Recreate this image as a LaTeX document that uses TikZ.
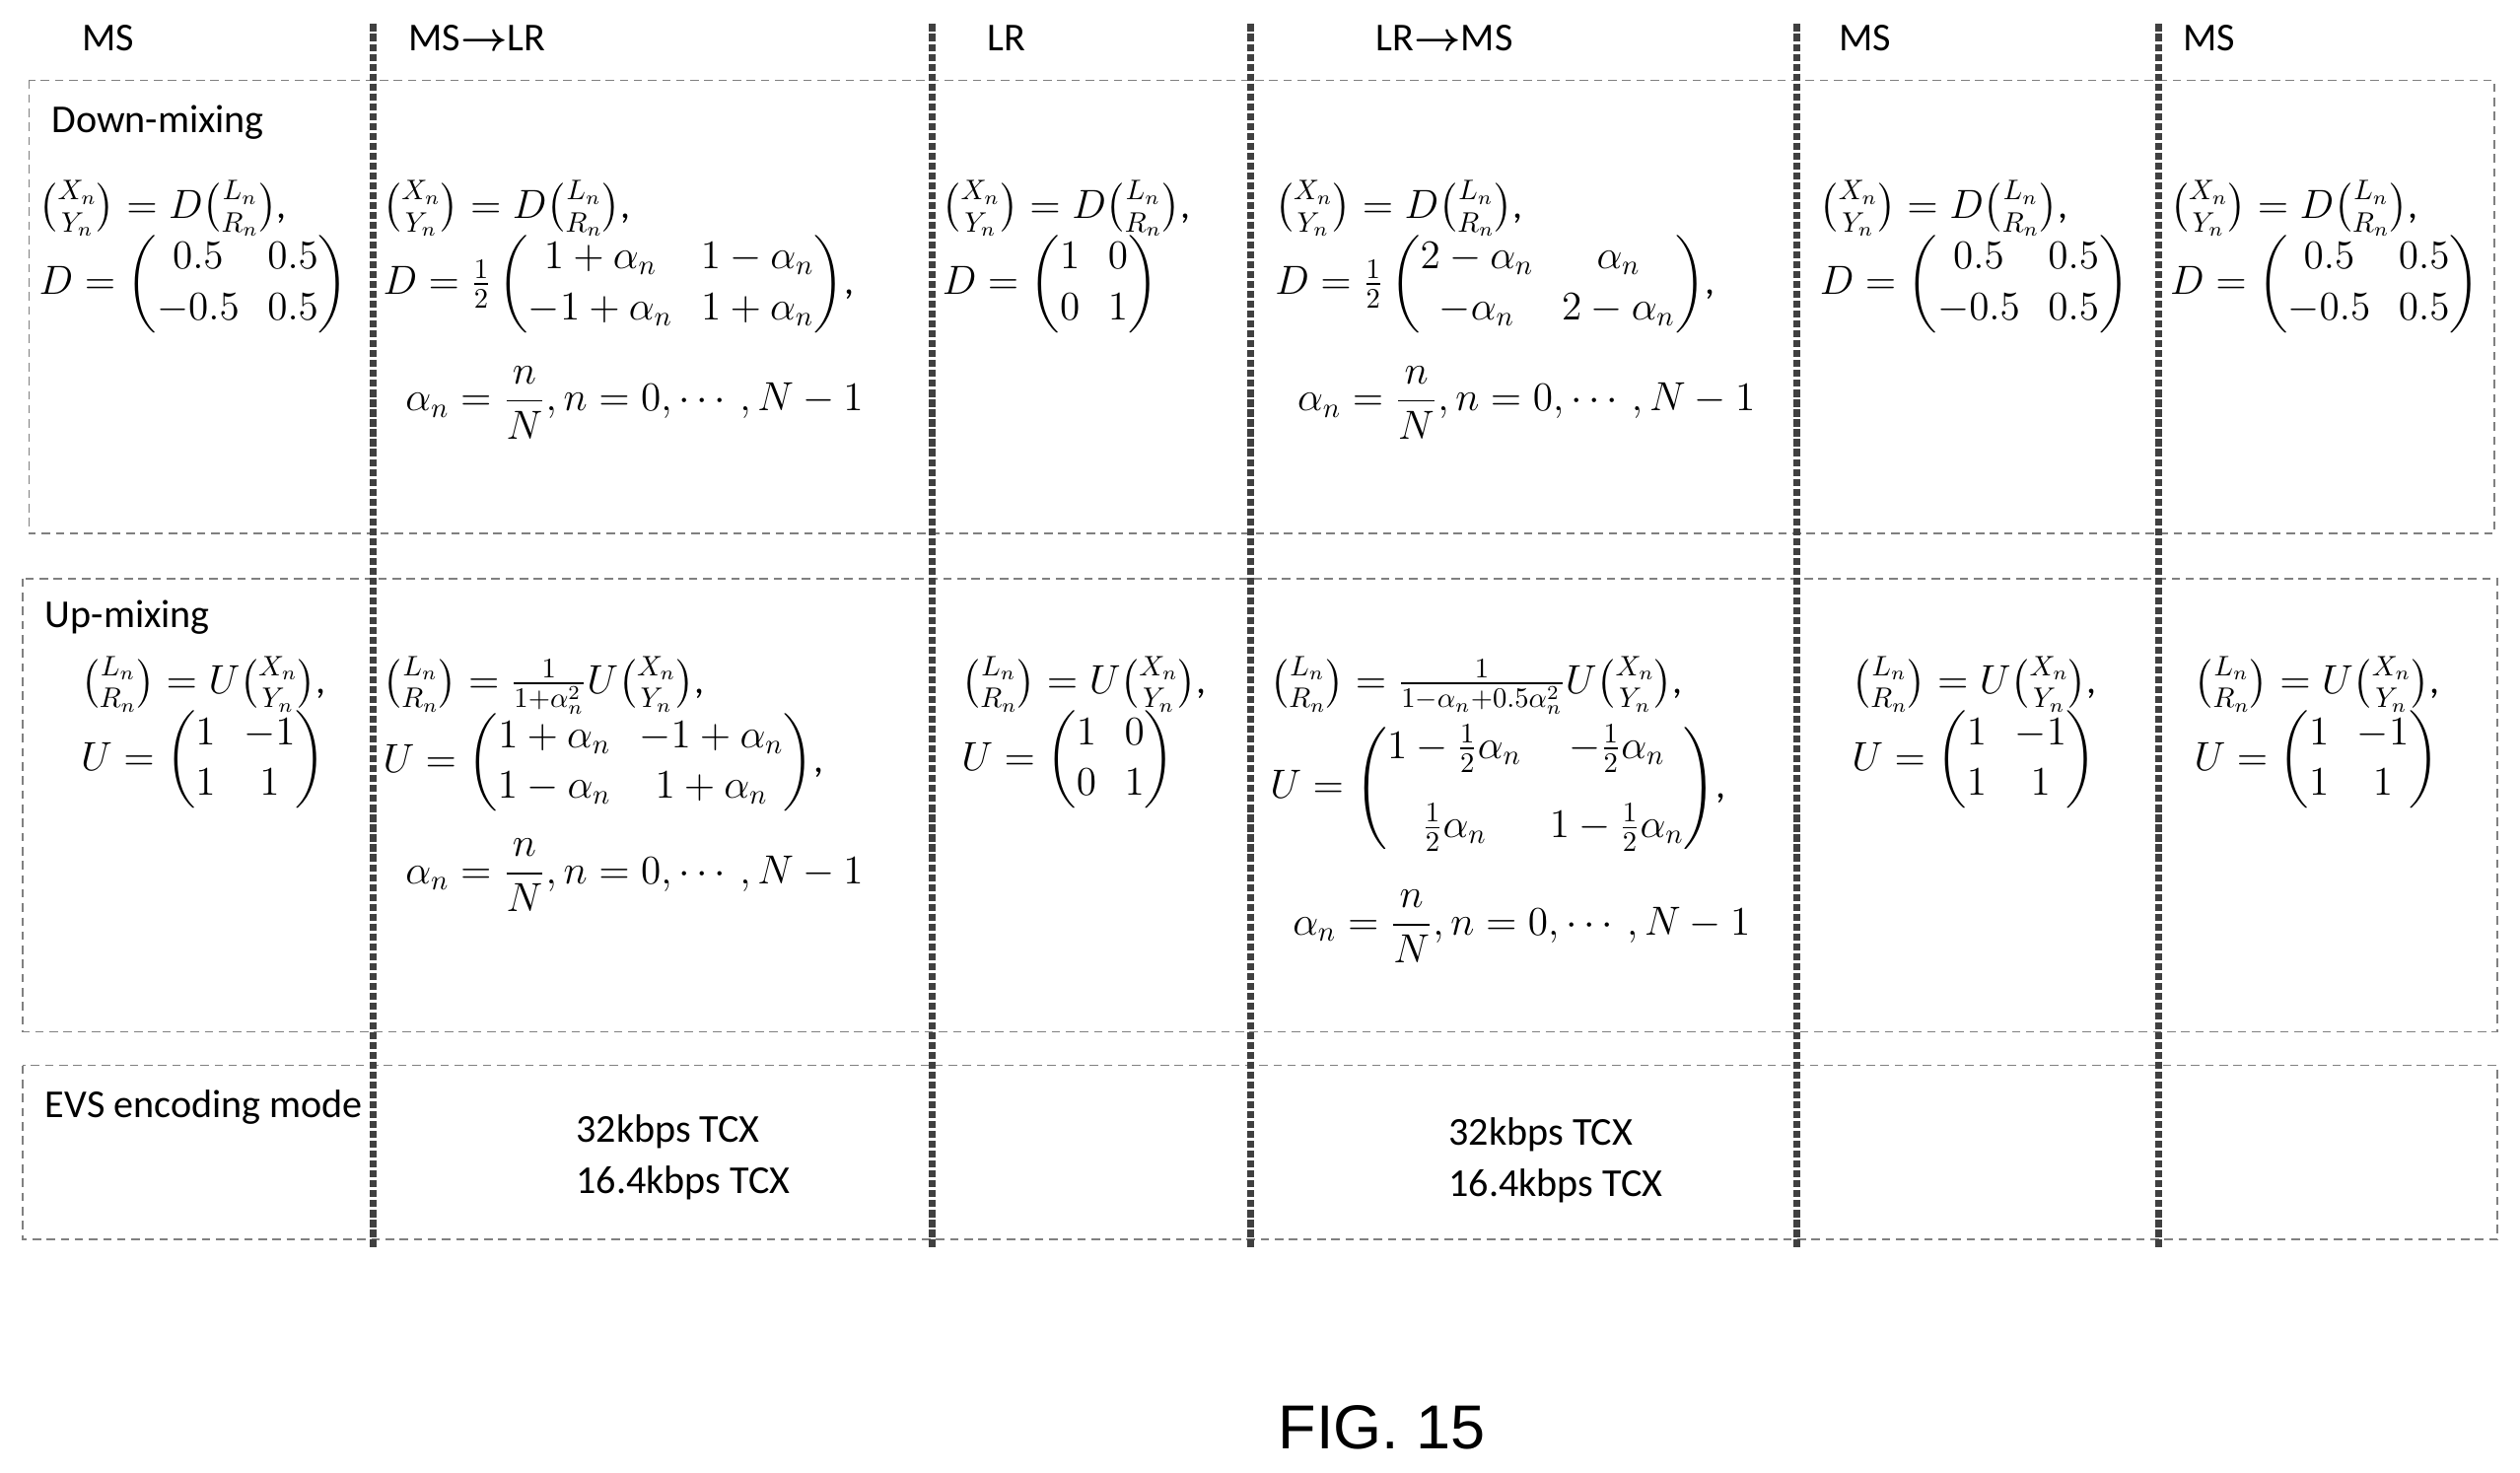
\documentclass[tikz,border=0pt]{standalone}
\usepackage{amsmath}
\usepackage{fontspec}
\setmainfont{Carlito}
\newfontfamily\figfont{Liberation Sans}
\tikzset{
  sep/.style={line width=2.5pt, dash pattern=on 2.5pt off 1pt, black!75},
  box/.style={densely dashed, gray, line width=0.5pt},
  hdr/.style={anchor=west, font=\fontsize{14}{16}\selectfont},
  eq/.style={anchor=north west, align=left, inner sep=0pt, font=\fontsize{14}{18}\selectfont},
}
\newcommand{\vXY}{\binom{X_n}{Y_n}}
\newcommand{\vLR}{\binom{L_n}{R_n}}
\newcommand{\alphaline}{$\;\;\alpha_n=\dfrac{n}{N},n=0,\cdots,N-1$}
\begin{document}
\begin{tikzpicture}[x=0.02cm,y=-0.02cm]
  \useasboundingbox (0,0) rectangle (1568,916);
  % boxes
  \draw[box] (18,50) rectangle (1552,332);
  \draw[box] (14,360) rectangle (1554,642);
  \draw[box] (14,663) rectangle (1554,771);
  % separators
  \foreach \x in {232,580,778,1118,1343}
    {
      \draw[sep] (\x,15) -- (\x,776);
    }
  % headers
  \node[hdr] (h1) at (45,24) {MS};
  \node[hdr] (h2) at (248,24) {MS$\boldsymbol{\rightarrow}$LR};
  \node[hdr] (h3) at (608,24) {LR};
  \node[hdr] (h4) at (850,24) {LR$\boldsymbol{\rightarrow}$MS};
  \node[hdr] (h5) at (1138,24) {MS};
  \node[hdr] (h6) at (1352,24) {MS};
  \node[hdr] (dm) at (26,76) {Down-mixing};
  \node[hdr] (um) at (22,384) {Up-mixing};
  \node[hdr] (evs) at (22,689) {EVS encoding mode};

  % down-mixing
  \node[eq] (d1) at (24,112) {$\vXY=D\vLR$,\\[-2pt]$D=\begin{pmatrix}0.5&0.5\\-0.5&0.5\end{pmatrix}$};
  \node[eq] (d2) at (238,112) {$\vXY=D\vLR$,\\[-2pt]$D=\frac{1}{2}\begin{pmatrix}1+\alpha_n&1-\alpha_n\\-1+\alpha_n&1+\alpha_n\end{pmatrix}$,\\[10pt]\alphaline};
  \node[eq] (d3) at (586,112) {$\vXY=D\vLR$,\\[-2pt]$D=\begin{pmatrix}1&0\\0&1\end{pmatrix}$};
  \node[eq] (d4) at (793,112) {$\vXY=D\vLR$,\\[-2pt]$D=\frac{1}{2}\begin{pmatrix}2-\alpha_n&\alpha_n\\-\alpha_n&2-\alpha_n\end{pmatrix}$,\\[10pt]\alphaline};
  \node[eq] (d5) at (1132,112) {$\vXY=D\vLR$,\\[-2pt]$D=\begin{pmatrix}0.5&0.5\\-0.5&0.5\end{pmatrix}$};
  \node[eq] (d6) at (1350,112) {$\vXY=D\vLR$,\\[-2pt]$D=\begin{pmatrix}0.5&0.5\\-0.5&0.5\end{pmatrix}$};

  % up-mixing
  \node[eq] (u1) at (50,408) {$\vLR=U\vXY$,\\[-2pt]$U=\begin{pmatrix}1&-1\\1&1\end{pmatrix}$};
  \node[eq] (u2) at (238,408) {$\vLR=\frac{1}{1+\alpha_n^2}U\vXY$,\\[-2pt]$U=\begin{pmatrix}1+\alpha_n&-1+\alpha_n\\1-\alpha_n&1+\alpha_n\end{pmatrix}$,\\[8pt]\alphaline};
  \node[eq] (u3) at (598,408) {$\vLR=U\vXY$,\\[-2pt]$U=\begin{pmatrix}1&0\\0&1\end{pmatrix}$};
  \node[eq] (u4) at (790,408) {$\vLR=\frac{1}{1-\alpha_n+0.5\alpha_n^2}U\vXY$,\\[2pt]$U=\begin{pmatrix}1-\frac{1}{2}\alpha_n&-\frac{1}{2}\alpha_n\\[10pt]\frac{1}{2}\alpha_n&1-\frac{1}{2}\alpha_n\end{pmatrix}$,\\[12pt]\alphaline};
  \node[eq] (u5) at (1152,408) {$\vLR=U\vXY$,\\[-2pt]$U=\begin{pmatrix}1&-1\\1&1\end{pmatrix}$};
  \node[eq] (u6) at (1365,408) {$\vLR=U\vXY$,\\[-2pt]$U=\begin{pmatrix}1&-1\\1&1\end{pmatrix}$};

  % EVS modes
  \node[align=left, font=\fontsize{14}{18}\selectfont] (e2) at (425,720) {32kbps TCX\\16.4kbps TCX};
  \node[align=left, font=\fontsize{14}{18}\selectfont] (e4) at (968,722) {32kbps TCX\\16.4kbps TCX};

  \node[font=\figfont\fontsize{22}{24}\selectfont] (fig) at (860,888) {FIG. 15};
\end{tikzpicture}
\end{document}
